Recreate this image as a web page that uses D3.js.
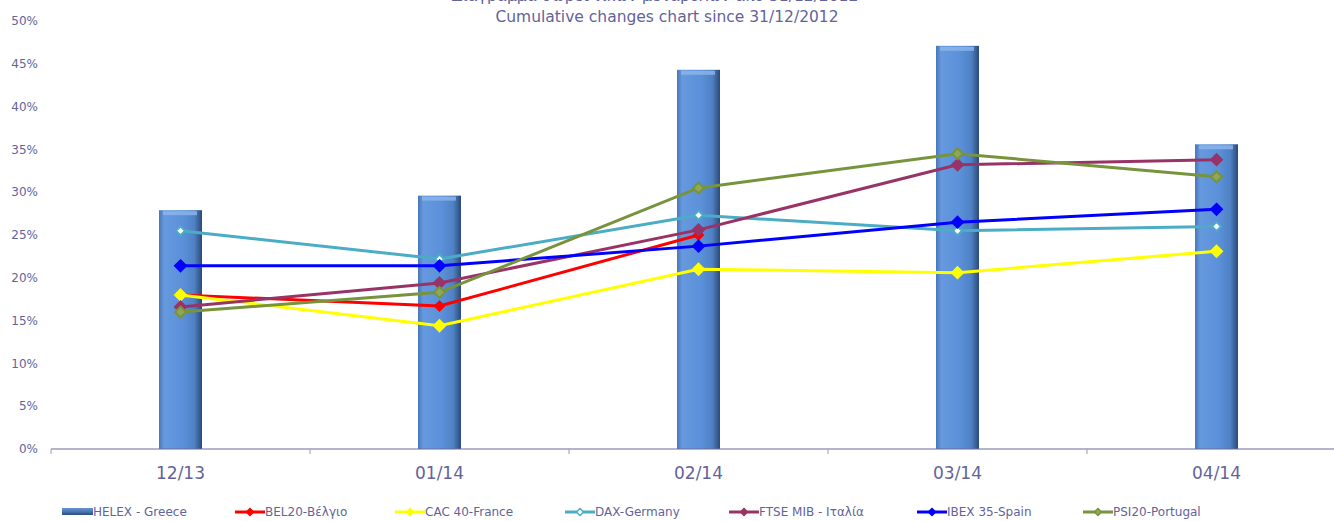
<!DOCTYPE html>
<html>
<head>
<meta charset="utf-8">
<script src="https://cdn.jsdelivr.net/npm/d3@7"></script>
<style>
  body { margin: 0; background: #fff; }
  svg text { font-family: "DejaVu Sans", sans-serif; fill: #63639a; }
</style>
</head>
<body>
<div id="chart"></div>
<script>
var w = 1334;
var h = 521;

// data
var months = ["12/13", "01/14", "02/14", "03/14", "04/14"];
var helex = [27.9, 29.6, 44.3, 47.1, 35.6];
var bel20 = [18.0, 16.7, 25.0];
var cac40 = [18.0, 14.4, 21.0, 20.6, 23.1];
var dax = [25.5, 22.2, 27.3, 25.5, 26.0];
var ftse = [16.6, 19.4, 25.6, 33.2, 33.8];
var ibex = [21.4, 21.4, 23.7, 26.5, 28.0];
var psi20 = [16.0, 18.3, 30.5, 34.5, 31.8];
var yTicks = [0, 5, 10, 15, 20, 25, 30, 35, 40, 45, 50];

var series = [
  { name: "BEL20-Βέλγιο", values: bel20, color: "#ff0000", fill: "#ff0000", r: 4.5 },
  { name: "CAC 40-France", values: cac40, color: "#ffff00", fill: "#ffff00", r: 5.5 },
  { name: "DAX-Germany", values: dax, color: "#4bacc6", fill: "#ffffff", r: 4.5 },
  { name: "FTSE MIB - Ιταλία", values: ftse, color: "#993366", fill: "#993366", r: 5.5 },
  { name: "IBEX 35-Spain", values: ibex, color: "#0000ff", fill: "#0000ff", r: 5.5 },
  { name: "PSI20-Portugal", values: psi20, color: "#77933c", fill: "#8fa858", r: 5.5 }
];

var svg = d3.select("#chart").append("svg")
  .attr("width", w)
  .attr("height", h);

var defs = svg.append("defs");
var grad = defs.append("linearGradient").attr("id", "barGrad")
  .attr("x1", "0%").attr("x2", "100%").attr("y1", "0%").attr("y2", "0%");
grad.append("stop").attr("offset", "0%").attr("stop-color", "#4777b8");
grad.append("stop").attr("offset", "12%").attr("stop-color", "#6699de");
grad.append("stop").attr("offset", "55%").attr("stop-color", "#5b91da");
grad.append("stop").attr("offset", "82%").attr("stop-color", "#4f81c4");
grad.append("stop").attr("offset", "100%").attr("stop-color", "#2b4a78");

var lgrad = defs.append("linearGradient").attr("id", "legGrad")
  .attr("x1", "0%").attr("x2", "0%").attr("y1", "0%").attr("y2", "100%");
lgrad.append("stop").attr("offset", "0%").attr("stop-color", "#6a96d0");
lgrad.append("stop").attr("offset", "50%").attr("stop-color", "#4a76b4");
lgrad.append("stop").attr("offset", "100%").attr("stop-color", "#2d4c7c");

var x = d3.scaleBand().domain(months).range([51, 1346]);
var y = d3.scaleLinear().domain([0, 50]).range([449, 21]);

// titles (first line is cut off at the top, as in the source)
svg.append("text")
  .attr("x", 655).attr("y", 0.5)
  .attr("text-anchor", "middle")
  .style("font-size", "15.5px")
  .text("Διάγραμμα σωρευτικών μεταβολών από 31/12/2012");
svg.append("text")
  .attr("x", 667).attr("y", 22)
  .attr("text-anchor", "middle")
  .style("font-size", "15.5px")
  .text("Cumulative changes chart since 31/12/2012");

// y axis labels
svg.append("g").selectAll("text")
  .data(yTicks)
  .enter().append("text")
  .attr("x", 38)
  .attr("y", d => y(d))
  .attr("dy", "0.35em")
  .attr("text-anchor", "end")
  .style("font-size", "12px")
  .text(d => d + "%");

// bars
var bw = 43;
var bars = svg.append("g");
bars.selectAll("rect.bar")
  .data(helex)
  .enter().append("rect")
  .attr("class", "bar")
  .attr("x", (d, i) => x(months[i]) + x.bandwidth() / 2 - bw / 2)
  .attr("y", d => y(d))
  .attr("width", bw)
  .attr("height", d => y(0) - y(d))
  .attr("fill", "url(#barGrad)");
bars.selectAll("rect.cap")
  .data(helex)
  .enter().append("rect")
  .attr("class", "cap")
  .attr("x", (d, i) => x(months[i]) + x.bandwidth() / 2 - bw / 2 + 4)
  .attr("y", d => y(d) + 1)
  .attr("width", bw - 9)
  .attr("height", 4)
  .attr("fill", "#8db6ec")
  .attr("opacity", 0.8);

// x axis
var xAxis = svg.append("g").attr("transform", "translate(0,449)");
xAxis.append("line")
  .attr("x1", 51).attr("x2", w)
  .attr("stroke", "#6b6b9c").attr("stroke-width", 1.2);
xAxis.selectAll("line.tick")
  .data(months)
  .enter().append("line")
  .attr("class", "tick")
  .attr("x1", d => x(d)).attr("x2", d => x(d))
  .attr("y1", 0).attr("y2", 5)
  .attr("stroke", "#9a9abb");
xAxis.selectAll("text")
  .data(months)
  .enter().append("text")
  .attr("x", d => x(d) + x.bandwidth() / 2)
  .attr("y", 30)
  .attr("text-anchor", "middle")
  .style("font-size", "17px")
  .text(d => d);

// lines
var line = d3.line()
  .x((d, i) => x(months[i]) + x.bandwidth() / 2)
  .y(d => y(d));

function diamond(r) {
  return "M0," + (-r) + "L" + r + ",0L0," + r + "L" + (-r) + ",0Z";
}

series.forEach(function (s) {
  var g = svg.append("g");
  g.append("path")
    .attr("d", line(s.values))
    .attr("fill", "none")
    .attr("stroke", s.color)
    .attr("stroke-width", 3);
  g.selectAll("path.m")
    .data(s.values)
    .enter().append("path")
    .attr("class", "m")
    .attr("d", diamond(s.r))
    .attr("transform", (d, i) => "translate(" + (x(months[i]) + x.bandwidth() / 2) + "," + y(d) + ")")
    .attr("fill", s.fill)
    .attr("stroke", s.color)
    .attr("stroke-width", 2);
});

// legend
var legendPos = [235, 395, 565, 729, 917, 1083];
var legend = svg.append("g").attr("transform", "translate(0,512)");
legend.append("rect")
  .attr("x", 62).attr("y", -4)
  .attr("width", 31).attr("height", 7)
  .attr("fill", "url(#legGrad)");
legend.append("text")
  .attr("x", 93).attr("y", 0)
  .attr("dy", "0.35em")
  .style("font-size", "12px")
  .text("HELEX - Greece");

var items = legend.selectAll("g.item")
  .data(series)
  .enter().append("g")
  .attr("class", "item")
  .attr("transform", (d, i) => "translate(" + legendPos[i] + ",0)");
items.append("line")
  .attr("x1", 0).attr("x2", 30)
  .attr("stroke", d => d.color)
  .attr("stroke-width", 3);
items.append("path")
  .attr("d", diamond(3.5))
  .attr("transform", "translate(15,0)")
  .attr("fill", d => d.fill)
  .attr("stroke", d => d.color)
  .attr("stroke-width", 1.5);
items.append("text")
  .attr("x", 30).attr("y", 0)
  .attr("dy", "0.35em")
  .style("font-size", "12px")
  .text(d => d.name);
</script>
</body>
</html>
